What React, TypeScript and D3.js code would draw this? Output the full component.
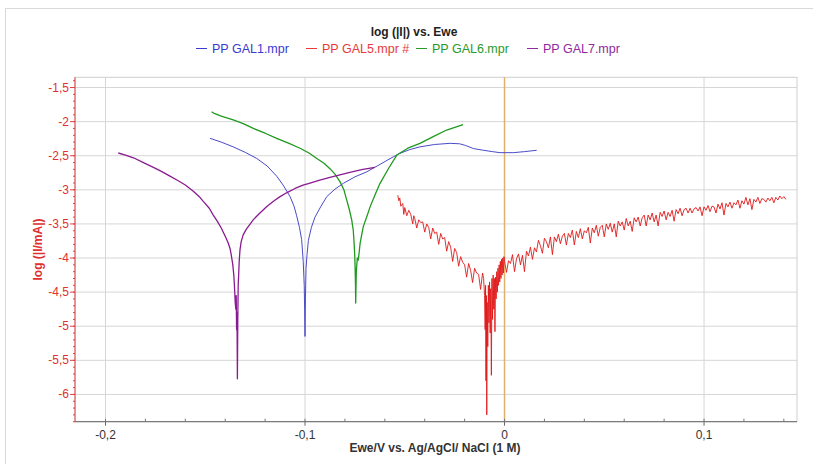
import React from "react";
import * as d3 from "d3";

type P = [number, number];

const title = "log (|I|) vs. Ewe";
const xTitle = "Ewe/V vs. Ag/AgCl/ NaCl (1 M)";
const yTitle = "log (|I/mA|)";
const legendLabels = ["PP GAL1.mpr", "PP GAL5.mpr #", "PP GAL6.mpr", "PP GAL7.mpr"];
const seriesColors = ["#4a4ac8", "#e01818", "#1f9a1f", "#8a1a92"];
const legendColors = ["#3a3ad0", "#e83a3a", "#2a9a2a", "#8e2a9e"];

const xTicks = [-0.2, -0.1, 0, 0.1];
const yTicks = [-1.5, -2, -2.5, -3, -3.5, -4, -4.5, -5, -5.5, -6];
const xDomain: P = [-0.2153, 0.1466];
const yDomain: P = [-6.4, -1.35];

const gal1: P[] = [
  [-0.1476, -2.245], [-0.142, -2.3], [-0.136, -2.37], [-0.13, -2.45], [-0.1242, -2.54],
  [-0.119, -2.65], [-0.1142, -2.8], [-0.111, -2.93], [-0.1075, -3.1], [-0.1055, -3.24],
  [-0.1042, -3.38], [-0.1028, -3.55], [-0.1017, -3.73], [-0.1009, -4.05], [-0.1004, -4.4],
  [-0.1002, -4.75], [-0.1, -5.15], [-0.0998, -4.6], [-0.0995, -4.15], [-0.099, -3.95],
  [-0.0983, -3.74], [-0.0968, -3.55], [-0.095, -3.4], [-0.092, -3.24], [-0.0891, -3.1],
  [-0.085, -2.99], [-0.0808, -2.905], [-0.075, -2.81], [-0.069, -2.735], [-0.062, -2.62],
  [-0.0557, -2.515], [-0.0524, -2.465], [-0.0475, -2.41], [-0.0424, -2.37], [-0.035, -2.335],
  [-0.0273, -2.318], [-0.0225, -2.325], [-0.0195, -2.35], [-0.0156, -2.395], [-0.0106, -2.42],
  [-0.006, -2.44], [-0.0023, -2.455], [0.0044, -2.455], [0.01, -2.44], [0.0161, -2.42],
];

const gal5: P[] = [
  [-0.0535, -3.08], [-0.053, -3.16], [-0.0525, -3.12], [-0.052, -3.24], [-0.051, -3.2],
  [-0.0505, -3.36], [-0.05, -3.26], [-0.049, -3.38], [-0.048, -3.3], [-0.047, -3.36],
  [-0.046, -3.5], [-0.0455, -3.38], [-0.045, -3.42], [-0.044, -3.56], [-0.043, -3.44],
  [-0.042, -3.48], [-0.041, -3.47], [-0.04, -3.62], [-0.039, -3.5], [-0.038, -3.55],
  [-0.037, -3.72], [-0.036, -3.56], [-0.035, -3.64], [-0.034, -3.62], [-0.033, -3.8],
  [-0.032, -3.64], [-0.031, -3.72], [-0.03, -3.7], [-0.029, -3.9], [-0.028, -3.76],
  [-0.027, -3.84], [-0.026, -4.05], [-0.025, -3.86], [-0.024, -3.92], [-0.023, -4.12],
  [-0.022, -3.98], [-0.021, -4.06], [-0.02, -4.1], [-0.019, -4.28], [-0.018, -4.08],
  [-0.017, -4.18], [-0.016, -4.36], [-0.015, -4.15], [-0.014, -4.22], [-0.013, -4.24],
  [-0.012, -4.46], [-0.011, -4.22], [-0.0105, -4.3], [-0.01, -4.55],
  [-0.0097, -5.05], [-0.0095, -4.4], [-0.0093, -5.8], [-0.0091, -4.55], [-0.0089, -6.3],
  [-0.0087, -4.65], [-0.0084, -5.3], [-0.0081, -4.4], [-0.0078, -4.95], [-0.0075, -4.35],
  [-0.0072, -5.1], [-0.0069, -4.45], [-0.0066, -5.72], [-0.0063, -4.3], [-0.006, -4.9],
  [-0.0057, -4.25], [-0.0054, -4.75], [-0.0051, -4.3], [-0.0048, -5.08], [-0.0045, -4.28],
  [-0.0042, -4.6], [-0.0039, -4.2], [-0.0036, -4.5], [-0.0033, -4.15], [-0.003, -4.4],
  [-0.0027, -4.1], [-0.0024, -4.35], [-0.0021, -4.05], [-0.0018, -4.3], [-0.0015, -4.02],
  [-0.0012, -4.25], [-0.0009, -4.0], [-0.0006, -4.22], [-0.0003, -3.98],
  [0.0, -4.05], [0.001, -4.21], [0.002, -4.04], [0.003, -4.08], [0.004, -3.95],
  [0.005, -4.2], [0.006, -4.01], [0.007, -3.94], [0.008, -4.1], [0.009, -3.96],
  [0.01, -4.2], [0.011, -3.9], [0.012, -3.97], [0.013, -3.84], [0.014, -4.02],
  [0.015, -3.85], [0.016, -3.91], [0.017, -3.74], [0.018, -3.82], [0.019, -3.93],
  [0.02, -3.71], [0.021, -3.76], [0.022, -3.85], [0.023, -3.69], [0.024, -3.95],
  [0.025, -3.69], [0.026, -3.76], [0.027, -3.65], [0.028, -3.79], [0.029, -3.68],
  [0.03, -3.64], [0.031, -3.81], [0.032, -3.64], [0.033, -3.7], [0.034, -3.59],
  [0.035, -3.81], [0.036, -3.61], [0.037, -3.7], [0.038, -3.57], [0.039, -3.72],
  [0.04, -3.6], [0.041, -3.63], [0.042, -3.55], [0.043, -3.78], [0.044, -3.56],
  [0.045, -3.63], [0.046, -3.52], [0.047, -3.68], [0.048, -3.55], [0.049, -3.52],
  [0.05, -3.69], [0.051, -3.5], [0.052, -3.58], [0.053, -3.49], [0.054, -3.62],
  [0.055, -3.5], [0.056, -3.69], [0.057, -3.46], [0.058, -3.53], [0.059, -3.47],
  [0.06, -3.59], [0.061, -3.42], [0.062, -3.53], [0.063, -3.46], [0.064, -3.61],
  [0.065, -3.41], [0.066, -3.47], [0.067, -3.4], [0.068, -3.53], [0.069, -3.41],
  [0.07, -3.37], [0.071, -3.53], [0.072, -3.37], [0.073, -3.44], [0.074, -3.34],
  [0.075, -3.47], [0.076, -3.37], [0.077, -3.53], [0.078, -3.33], [0.079, -3.39],
  [0.08, -3.31], [0.081, -3.44], [0.082, -3.33], [0.083, -3.39], [0.084, -3.3],
  [0.085, -3.46], [0.086, -3.29], [0.087, -3.35], [0.088, -3.27], [0.089, -3.38],
  [0.09, -3.29], [0.091, -3.27], [0.092, -3.34], [0.093, -3.27], [0.094, -3.34],
  [0.095, -3.28], [0.096, -3.26], [0.097, -3.31], [0.098, -3.25], [0.099, -3.38],
  [0.1, -3.25], [0.101, -3.3], [0.102, -3.23], [0.103, -3.32], [0.104, -3.24],
  [0.105, -3.25], [0.106, -3.34], [0.107, -3.21], [0.108, -3.28], [0.109, -3.19],
  [0.11, -3.37], [0.111, -3.2], [0.112, -3.25], [0.113, -3.18], [0.114, -3.27],
  [0.115, -3.19], [0.116, -3.22], [0.117, -3.15], [0.118, -3.27], [0.119, -3.16],
  [0.12, -3.21], [0.121, -3.11], [0.122, -3.22], [0.123, -3.13], [0.124, -3.29],
  [0.125, -3.14], [0.126, -3.18], [0.127, -3.11], [0.128, -3.2], [0.129, -3.13],
  [0.13, -3.14], [0.131, -3.18], [0.132, -3.12], [0.133, -3.16], [0.134, -3.11],
  [0.135, -3.19], [0.136, -3.11], [0.137, -3.15], [0.138, -3.09], [0.139, -3.13],
  [0.14, -3.1], [0.141, -3.14],
];

const gal6: P[] = [
  [-0.1468, -1.855], [-0.1455, -1.88], [-0.142, -1.92], [-0.136, -1.975], [-0.131, -2.03],
  [-0.1259, -2.1], [-0.12, -2.17], [-0.1142, -2.245], [-0.108, -2.32], [-0.1025, -2.39],
  [-0.098, -2.46], [-0.0941, -2.54], [-0.0905, -2.61], [-0.0875, -2.69], [-0.085, -2.77],
  [-0.0825, -2.88], [-0.0805, -3.0], [-0.0791, -3.15], [-0.0777, -3.3], [-0.0766, -3.44],
  [-0.0758, -3.6], [-0.0754, -3.785], [-0.0751, -3.95], [-0.0749, -4.13], [-0.0747, -4.4],
  [-0.0746, -4.66], [-0.0743, -4.2], [-0.0738, -4.0], [-0.0733, -4.03], [-0.0728, -3.9],
  [-0.0724, -3.785], [-0.0716, -3.66], [-0.0708, -3.54], [-0.069, -3.39], [-0.0674, -3.25],
  [-0.065, -3.08], [-0.0624, -2.905], [-0.058, -2.68], [-0.054, -2.49], [-0.0485, -2.39],
  [-0.0424, -2.318], [-0.035, -2.21], [-0.029, -2.123], [-0.0208, -2.043],
];

const gal7: P[] = [
  [-0.1936, -2.46], [-0.19, -2.49], [-0.186, -2.53], [-0.181, -2.6], [-0.176, -2.67],
  [-0.172, -2.73], [-0.1677, -2.8], [-0.164, -2.86], [-0.16, -2.93], [-0.156, -3.02],
  [-0.153, -3.1], [-0.151, -3.17], [-0.148, -3.27], [-0.146, -3.37], [-0.144, -3.46],
  [-0.142, -3.56], [-0.14, -3.68], [-0.1385, -3.78], [-0.1376, -3.86], [-0.137, -3.95],
  [-0.1362, -4.1], [-0.1357, -4.25], [-0.1353, -4.45], [-0.135, -4.65], [-0.1347, -4.75],
  [-0.1345, -4.55], [-0.1343, -5.05], [-0.1341, -4.8], [-0.1339, -5.77], [-0.1337, -4.9],
  [-0.1335, -4.4], [-0.1332, -4.2], [-0.133, -4.05], [-0.1326, -3.88], [-0.132, -3.76],
  [-0.131, -3.66], [-0.1295, -3.58], [-0.128, -3.52], [-0.126, -3.44], [-0.123, -3.35],
  [-0.119, -3.24], [-0.1155, -3.16], [-0.1125, -3.1], [-0.109, -3.04], [-0.105, -2.98],
  [-0.101, -2.93], [-0.0975, -2.9], [-0.093, -2.86], [-0.088, -2.82], [-0.0825, -2.78],
  [-0.077, -2.74], [-0.071, -2.7], [-0.0649, -2.67],
];

const seriesData = [gal1, gal5, gal6, gal7];
const seriesWidths = [1, 0.9, 1.3, 1.3];

const W = 813;
const H = 464;
const L = 75, R = 797, T = 77.3, B = 421.7;
const FONT = "'Liberation Sans', Arial, sans-serif";

const fmt = (v: number) => {
  const s = d3.format("~g")(Math.round(v * 1000) / 1000);
  return s.replace(".", ",").replace("−", "-");
};

export default function App() {
  const x = d3.scaleLinear().domain(xDomain).range([L, R]);
  const y = d3.scaleLinear().domain(yDomain).range([B, T]);
  const line = d3.line<P>().x((d) => x(d[0])).y((d) => y(d[1]));

  const xMinor = d3.range(-0.2, 0.1461, 0.02).map((v) => Math.round(v * 1000) / 1000);
  const yMinor = d3.range(-6.4, -1.35, 0.1).map((v) => Math.round(v * 100) / 100);

  const legendX = [196, 306, 416, 527];

  return (
    <svg width={W} height={H} style={{ display: "block", position: "absolute", left: 0, top: 0 }} fontFamily={FONT}>
      <rect x={0} y={0} width={W} height={H} fill="#fff" />
      <rect x={5.5} y={8.5} width={W + 10} height={H + 10} fill="none" stroke="#d9d9d9" />
      <text x={414} y={36} textAnchor="middle" fontSize={12} fontWeight="bold" fill="#222">{title}</text>
      {legendLabels.map((lab, i) => (
        <g key={lab}>
          <line x1={legendX[i]} x2={legendX[i] + 11} y1={48.5} y2={48.5} stroke={legendColors[i]} strokeWidth={1} />
          <text x={legendX[i] + 16} y={53} fontSize={12.5} fill={legendColors[i]}>{lab}</text>
        </g>
      ))}

      <defs>
        <clipPath id="plot">
          <rect x={L} y={T} width={R - L} height={B - T} />
        </clipPath>
      </defs>

      {yTicks.map((t) => (
        <line key={"gy" + t} x1={L} x2={R} y1={y(t)} y2={y(t)} stroke="#d6d6d6" strokeWidth={1} />
      ))}
      {xTicks.filter((t) => t !== 0).map((t) => (
        <line key={"gx" + t} x1={x(t)} x2={x(t)} y1={T} y2={B} stroke="#d6d6d6" strokeWidth={1} />
      ))}
      <rect x={L} y={T} width={R - L} height={B - T} fill="none" stroke="#cfcfcf" />
      <line x1={x(0)} x2={x(0)} y1={T} y2={B} stroke="#e2b06a" strokeWidth={1.5} />

      <g clipPath="url(#plot)">
        {seriesData.map((d, i) => (
          <path key={i} d={line(d) || ""} fill="none" stroke={seriesColors[i]} strokeWidth={seriesWidths[i]} strokeLinejoin="round" />
        ))}
      </g>

      <line x1={L} x2={R} y1={B} y2={B} stroke="#666" strokeWidth={1} />
      {xMinor.map((t) => (
        <line key={"xm" + t} x1={x(t)} x2={x(t)} y1={B} y2={B - 3} stroke="#777" />
      ))}
      {xTicks.map((t) => (
        <g key={"xt" + t}>
          <line x1={x(t)} x2={x(t)} y1={B} y2={B + 4} stroke="#666" />
          <text x={x(t)} y={B + 17} textAnchor="middle" fontSize={12} fill="#333">{fmt(t)}</text>
        </g>
      ))}
      <text x={(L + R) / 2 - 1} y={452} textAnchor="middle" fontSize={12} fontWeight="bold" fill="#333">{xTitle}</text>

      <line x1={L} x2={L} y1={T} y2={B} stroke="#e04040" strokeWidth={1} />
      {yMinor.map((t) => (
        <line key={"ym" + t} x1={L} x2={L - 2} y1={y(t)} y2={y(t)} stroke="#e04040" />
      ))}
      {yTicks.map((t) => (
        <g key={"yt" + t}>
          <line x1={L - 5} x2={L} y1={y(t)} y2={y(t)} stroke="#e04040" />
          <text x={L - 6} y={y(t) + 4} textAnchor="end" fontSize={12} fill="#e03030">{fmt(t)}</text>
        </g>
      ))}
      <text transform={`translate(42,${(T + B) / 2}) rotate(-90)`} textAnchor="middle" fontSize={12} fontWeight="bold" fill="#e03030">{yTitle}</text>
    </svg>
  );
}
